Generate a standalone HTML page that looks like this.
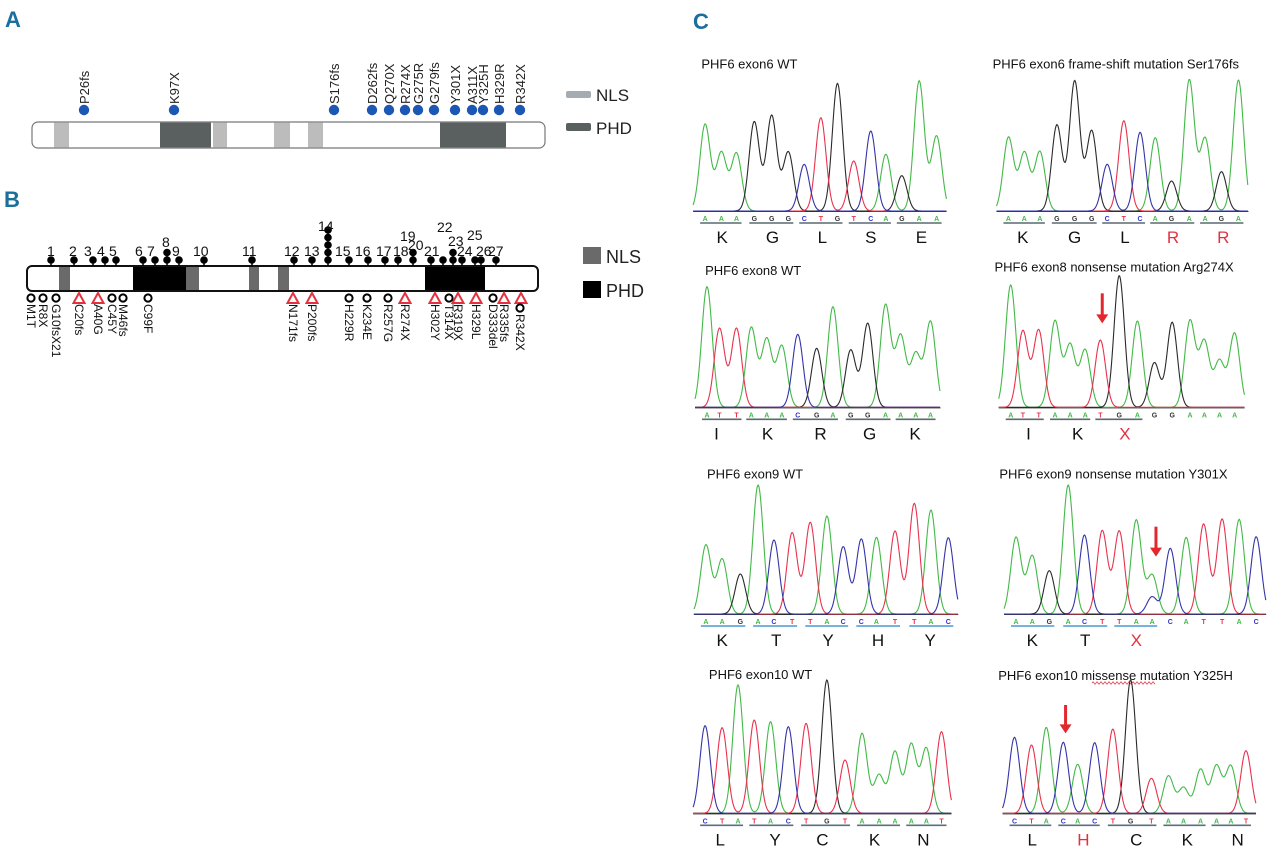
<!DOCTYPE html>
<html><head><meta charset="utf-8">
<style>
html,body{margin:0;padding:0;background:#fff;}
svg{display:block;font-family:"Liberation Sans",Arial,sans-serif;}
</style></head>
<body>
<svg id="s" width="1280" height="865" viewBox="0 0 1280 865" xmlns="http://www.w3.org/2000/svg">
<!-- Panel labels -->
<text x="5" y="27" font-size="22" font-weight="bold" fill="#1b6f9c" font-family="Liberation Sans Narrow, Liberation Sans, sans-serif">A</text>
<text x="4" y="207" font-size="22" font-weight="bold" fill="#1b6f9c" font-family="Liberation Sans Narrow, Liberation Sans, sans-serif">B</text>
<text x="693" y="29" font-size="22" font-weight="bold" fill="#1b6f9c" font-family="Liberation Sans Narrow, Liberation Sans, sans-serif">C</text>

<!-- Panel A -->
<rect x="32" y="122" width="513" height="26" rx="6" fill="#fff" stroke="#777" stroke-width="1.2"/>
<rect x="54" y="122.6" width="15" height="24.8" fill="#bcbcbc"/>
<rect x="160" y="122.6" width="51" height="24.8" fill="#5a5f5f"/>
<rect x="213" y="122.6" width="14" height="24.8" fill="#bcbcbc"/>
<rect x="274" y="122.6" width="16" height="24.8" fill="#bcbcbc"/>
<rect x="308" y="122.6" width="15" height="24.8" fill="#bcbcbc"/>
<rect x="440" y="122.6" width="66" height="24.8" fill="#5a5f5f"/>
<g id="adots" fill="#1d57b5"></g>
<rect x="566" y="91" width="25" height="7" rx="2" fill="#a4acb2"/>
<text x="596" y="101" font-size="17" fill="#222">NLS</text>
<rect x="566" y="123" width="25" height="8" rx="2" fill="#5a5f5f"/>
<text x="596" y="134" font-size="17" fill="#222">PHD</text>

<!-- Panel B -->
<rect x="27" y="266" width="511" height="25" rx="5" fill="#fff" stroke="#111" stroke-width="2"/>
<rect x="59" y="267" width="11" height="23" fill="#6a6a6a"/>
<rect x="186" y="267" width="13" height="23" fill="#6a6a6a"/>
<rect x="249" y="267" width="10" height="23" fill="#6a6a6a"/>
<rect x="278" y="267" width="11" height="23" fill="#6a6a6a"/>
<rect x="133" y="267" width="53" height="23" fill="#000"/>
<rect x="425" y="267" width="60" height="23" fill="#000"/>
<g id="blolli"></g>
<g id="bmarks"></g>
<rect x="583" y="247" width="18" height="17" fill="#6a6a6a"/>
<text x="606" y="263" font-size="18" fill="#222">NLS</text>
<rect x="583" y="281" width="18" height="17" fill="#000"/>
<text x="606" y="297" font-size="18" fill="#222">PHD</text>

<g id="chrom"></g>
</svg>
<script>
var NS="http://www.w3.org/2000/svg";
function el(p,t,a,txt){var e=document.createElementNS(NS,t);for(var k in a)e.setAttribute(k,a[k]);if(txt!==undefined)e.textContent=txt;p.appendChild(e);return e;}
// Panel A dots
var ad=document.getElementById('adots');
[[84,"P26fs"],[174,"K97X"],[334,"S176fs"],[372,"D262fs"],[389,"Q270X"],[405,"R274X"],[418,"G275R"],[434,"G279fs"],[455,"Y301X"],[472,"A311X"],[483,"Y325H"],[499,"H329R"],[520,"R342X"]].forEach(function(d){
 el(ad,'circle',{cx:d[0],cy:110,r:5.2});
 el(ad,'text',{x:0,y:0,'font-size':13,fill:'#222',transform:'translate('+(d[0]+5)+',104) rotate(-90)'},d[1]);
});
// Panel B lollipops
var bl=document.getElementById('blolli');
var lol=[[51,1],[74,1],[93,1],[105,1],[116,1],[143,1],[155,1],[167,2],[179,1],[204,1],[252,1],[294,1],[312,1],[328,5],[349,1],[368,1],[385,1],[398,1],[413,2],[431,1],[443,1],[453,2],[462,1],[475,1],[481,1],[496,1]];
lol.forEach(function(l){
 var top=260-(l[1]-1)*7.5;
 el(bl,'line',{x1:l[0],y1:top,x2:l[0],y2:266,stroke:'#000','stroke-width':1.5});
 for(var i=0;i<l[1];i++)el(bl,'circle',{cx:l[0],cy:260-i*7.5,r:3.8,fill:'#000'});
});
[[47,256,"1"],[69,256,"2"],[84,256,"3"],[97,256,"4"],[109,256,"5"],[135,256,"6"],[147,256,"7"],[162,247,"8"],[172,256,"9"],[193,256,"10"],[242,256,"11"],[284,256,"12"],[304,256,"13"],[318,231,"14"],[335,256,"15"],[355,256,"16"],[376,256,"17"],[393,256,"18"],[400,241,"19"],[408,250,"20"],[424,256,"21"],[437,232,"22"],[448,246,"23"],[457,256,"24"],[467,240,"25"],[476,256,"26"],[488,256,"27"]].forEach(function(n){
 el(bl,'text',{x:n[0],y:n[1],'font-size':14,fill:'#111'},n[2]);
});
// Panel B markers
var bm=document.getElementById('bmarks');
var mk=[[31,'c',"M1T"],[43,'c',"R8X"],[56,'c',"G10fsX21"],[79,'t',"C20fs"],[98,'t',"A40G"],[112,'c',"C45Y"],[123,'c',"M46fs"],[148,'c',"C99F"],[293,'t',"N171fs"],[312,'t',"P200fs"],[349,'c',"H229R"],[367,'c',"K234E"],[388,'c',"R257G"],[405,'t',"R274X"],[435,'t',"H302Y"],[449,'c',"T314X"],[458,'t',"R319X"],[476,'t',"H329L"],[493,'c',"D333del"],[504,'t',"R335fs"],[521,'t',""]];
mk.forEach(function(m){
 if(m[1]=='c')el(bm,'circle',{cx:m[0],cy:298,r:3.6,fill:'none',stroke:'#000','stroke-width':2});
 else el(bm,'path',{d:'M'+m[0]+' 293 L'+(m[0]+5.5)+' 303 L'+(m[0]-5.5)+' 303 Z',fill:'none',stroke:'#e2323f','stroke-width':2});
 if(m[2])el(bm,'text',{x:0,y:0,'font-size':12,fill:'#111',transform:'translate('+(m[0]-4)+',304) rotate(90)'},m[2]);
});
el(bm,'circle',{cx:520,cy:308,r:3.6,fill:'none',stroke:'#000','stroke-width':2});
el(bm,'text',{x:0,y:0,'font-size':12,fill:'#111',transform:'translate(516,314) rotate(90)'},"R342X");

// Chromatograms
var C={g:'#43b947',k:'#2a2a2a',r:'#e8324e',b:'#3434a8'};
var BC={A:'#43b947',C:'#3434c8',G:'#333',T:'#e8324e'};
function X(z){return 690+z/2.644;}
var panels=[
 {y0:0,base:633,title:[30,190,"PHF6 exon6 WT"],peaks:[[40,373,'g'],[83,458,'g'],[123,460,'g'],[170,365,'k'],[216,347,'k'],[260,456,'k'],[302,493,'b'],[346,353,'r'],[390,250,'k'],[433,483,'r'],[478,393,'b'],[518,463,'g'],[560,527,'k'],[606,243,'g'],[652,408,'g']],bases:"AAAGGGCTGTCAGAA",aa:[[85,"K"],[218,"G"],[350,"L"],[478,"S"],[612,"E"]],ul:'#5a6a70'},
 {y0:0,base:633,title:[800,190,"PHF6 exon6 frame-shift  mutation Ser176fs"],peaks:[[842,412,'g'],[884,458,'g'],[925,455,'g'],[970,375,'k'],[1017,243,'k'],[1062,392,'k'],[1103,493,'b'],[1147,362,'r'],[1190,397,'b'],[1230,413,'g'],[1273,543,'k'],[1320,240,'g'],[1362,415,'g'],[1405,515,'k'],[1450,240,'g']],bases:"AAAGGGCTCAGAAGA",aa:[[880,"K"],[1017,"G"],[1150,"L"],[1277,"R",1],[1410,"R",1]],ul:'#5a6a70'},
 {y0:255,base:457,title:[40,45,"PHF6 exon8 WT"],peaks:[[45,95,'g'],[78,220,'r'],[123,220,'r'],[162,218,'g'],[203,253,'g'],[243,273,'g'],[285,238,'b'],[335,280,'k'],[378,155,'g'],[425,285,'k'],[470,205,'k'],[517,150,'g'],[557,243,'g'],[597,297,'g'],[636,200,'g']],bases:"ATTAAACGAGGAAAA",aa:[[70,"I"],[205,"K"],[345,"R"],[475,"G"],[595,"K"]],ul:'#5a6a70'},
 {y0:255,base:457,title:[805,35,"PHF6 exon8 nonsense  mutation Arg274X"],peaks:[[848,90,'g'],[880,228,'r'],[922,225,'r'],[965,198,'g'],[1005,270,'g'],[1045,285,'g'],[1085,255,'r'],[1135,62,'k'],[1183,198,'g'],[1228,323,'k'],[1275,202,'k'],[1322,198,'g'],[1360,260,'g'],[1400,318,'g'],[1440,235,'g']],bases:"ATTAAATGAGGAAAA",aa:[[895,"I"],[1025,"K"],[1150,"X",1]],groups:3,ul:'#5a6a70',arrow:[1090,115,205]},
 {y0:460,base:462,title:[45,40,"PHF6 exon9 WT"],peaks:[[42,255,'g'],[85,297,'g'],[133,342,'k'],[180,75,'g'],[222,240,'b'],[270,218,'r'],[318,187,'r'],[362,168,'g'],[405,260,'b'],[453,237,'b'],[493,232,'g'],[542,213,'r'],[593,130,'r'],[637,150,'g'],[683,233,'b']],bases:"AAGACTTACCATTAC",aa:[[85,"K"],[228,"T"],[365,"Y"],[497,"H"],[635,"Y"]],ul:'#4b9ad6'},
 {y0:460,base:462,title:[818,40,"PHF6 exon9 nonsense  mutation Y301X"],peaks:[[862,232,'g'],[905,287,'g'],[950,332,'k'],[1000,75,'g'],[1043,225,'b'],[1090,212,'r'],[1135,213,'r'],[1180,180,'g'],[1222,345,'g'],[1222,410,'b'],[1270,265,'b'],[1312,232,'g'],[1358,192,'r'],[1407,177,'r'],[1452,178,'g'],[1497,230,'b']],bases:"AAGACTTAA.CATTAC",aa:[[905,"K"],[1045,"T"],[1180,"X",1]],groups:3,ul:'#4b9ad6',arrow:[1232,200,290]},
 {y0:660,base:460,title:[50,42,"PHF6 exon10 WT"],peaks:[[40,197,'b'],[85,203,'r'],[127,75,'g'],[170,180,'r'],[213,185,'g'],[260,200,'b'],[307,190,'r'],[362,60,'k'],[410,300,'r'],[455,220,'g'],[500,345,'g'],[542,275,'g'],[585,253,'g'],[625,265,'g'],[665,215,'r']],bases:"CTATACTGTAAAAAT",aa:[[80,"L"],[225,"Y"],[350,"C"],[488,"K"],[617,"N"]],ul:'#5a7080'},
 {y0:660,base:460,title:[815,45,"PHF6 exon10 missense mutation Y325H"],peaks:[[858,232,'b'],[903,255,'r'],[942,202,'g'],[987,247,'b'],[1025,313,'g'],[1070,248,'b'],[1118,207,'r'],[1165,60,'k'],[1220,355,'r'],[1265,348,'g'],[1305,383,'g'],[1350,328,'g'],[1392,318,'g'],[1430,318,'g'],[1470,272,'r']],bases:"CTACACTGTAAAAAT",aa:[[905,"L"],[1040,"H",1],[1180,"C"],[1315,"K"],[1448,"N"]],ul:'#5a7080',arrow:[993,135,220],wavy:true}
];
var cg=document.getElementById('chrom');
panels.forEach(function(p){
 var by=p.y0+p.base/3;
 var t=el(cg,'text',{x:X(p.title[0]),y:p.y0+p.title[1]/3+5,'font-size':13,fill:'#111'},p.title[1]===undefined?'':p.title[2]);
 if(p.wavy){
  var wx=X(1063),wx2=X(1228),wy=p.y0+p.title[1]/3+8,d='M'+wx+' '+wy;
  for(var q=wx;q<wx2;q+=2)d+=' L'+(q+1)+' '+(wy+((q-wx)/2%2?1.2:-1.2));
  el(cg,'path',{d:d,fill:'none',stroke:'#e04050','stroke-width':0.8});
 }
 var x0=X(p.peaks[0][0])-12,x1=X(p.peaks[p.peaks.length-1][0])+10;
 // baseline
 el(cg,'line',{x1:x0,y1:by+0.5,x2:x1,y2:by+0.5,stroke:'#333','stroke-width':1});
 ['g','k','r','b'].forEach(function(c){
  var pk=p.peaks.filter(function(a){return a[2]==c;});
  if(!pk.length)return;
  var d='';
  for(var x=x0;x<=x1;x+=0.7){
   var s=0;
   pk.forEach(function(a){var px=X(a[0]),h=by-(p.y0+a[1]/3);var dx=(x-px)/5.2;s+=h*Math.exp(-dx*dx/2);});
   var yy=by-Math.min(s,by-(p.y0+20));
   d+=(d?' L':'M')+x.toFixed(1)+' '+yy.toFixed(1);
  }
  el(cg,'path',{d:d,fill:'none',stroke:C[c],'stroke-width':1.1});
 });
 // base letters
 var bs=p.bases.replace('.','');
 var pks=p.peaks.filter(function(a,i){return !(p.peaks[i-1]&&p.peaks[i-1][0]==a[0]);});
 for(var i=0;i<bs.length&&i<pks.length;i++){
  el(cg,'text',{x:X(pks[i][0]),y:by+10,'font-size':7,'font-weight':'bold','text-anchor':'middle',fill:BC[bs[i]]},bs[i]);
 }
 var ng=p.groups||5;
 for(var g=0;g<ng;g++){
  var a=X(pks[g*3][0])-5,b=X(pks[g*3+2][0])+5;
  el(cg,'line',{x1:a,y1:by+12,x2:b,y2:by+12,stroke:p.ul,'stroke-width':1.6});
 }
 p.aa.forEach(function(a){
  el(cg,'text',{x:X(a[0]),y:by+32,'font-size':17,'text-anchor':'middle',fill:a[2]?'#e2323f':'#111'},a[1]);
 });
 if(p.arrow){
  var ax=X(p.arrow[0]),ya=p.y0+p.arrow[1]/3,yb=p.y0+p.arrow[2]/3;
  el(cg,'line',{x1:ax,y1:ya,x2:ax,y2:yb-7,stroke:'#e2282e','stroke-width':3});
  el(cg,'path',{d:'M'+(ax-6)+' '+(yb-9)+' L'+(ax+6)+' '+(yb-9)+' L'+ax+' '+yb+' Z',fill:'#e2282e'});
 }
});
</script>
</body></html>
